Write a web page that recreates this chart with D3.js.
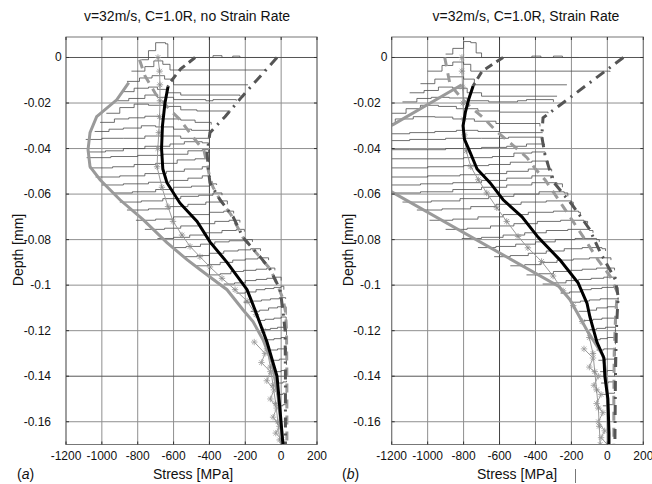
<!DOCTYPE html>
<html><head><meta charset="utf-8">
<script src="https://cdn.jsdelivr.net/npm/d3@7"></script>
<style>body{margin:0;background:#fff}text{font-family:"Liberation Sans",Arial,sans-serif;fill:#111}</style>
</head><body>
<svg id="c" width="652" height="484"></svg>
<script>
// ---------- shared tick data ----------
const xTicks = [-1200,-1000,-800,-600,-400,-200,0,200];
const yTicks = [0,-0.02,-0.04,-0.06,-0.08,-0.1,-0.12,-0.14,-0.16];
const yTickLabels = ["0","-0.02","-0.04","-0.06","-0.08","-0.1","-0.12","-0.14","-0.16"];
const titles = ["v=32m/s, C=1.0R, no Strain Rate","v=32m/s, C=1.0R, Strain Rate"];
const panelTags = ["(a)","(b)"];

// ---------- panel (a) series: [stress MPa, depth mm] ----------
const blackA = [[-631,-0.0128],[-648,-0.02],[-662,-0.03],[-667,-0.04],[-660,-0.049],[-637,-0.055],[-564,-0.064],[-469,-0.072],[-397,-0.081],[-302,-0.090],[-190,-0.102],[-145,-0.111],[-79,-0.125],[-23,-0.14],[-6,-0.155],[10,-0.17]];
const darkDashA = [[-480,0],[-560,-0.005],[-620,-0.011],[-631,-0.0128]];
const graySolidA = [[-850,-0.011],[-917,-0.0186],[-1029,-0.026],[-1066,-0.033],[-1077,-0.0405],[-1066,-0.048],[-1010,-0.0537],[-899,-0.0625],[-770,-0.0712],[-637,-0.0813],[-525,-0.0888],[-453,-0.0931],[-302,-0.102],[-213,-0.1108],[-157,-0.116],[-101,-0.124],[-51,-0.134],[-17,-0.149],[10,-0.17]];
const grayDashA = [[-790,-0.001],[-760,-0.008],[-700,-0.016],[-620,-0.023],[-564,-0.0273],[-491,-0.035],[-430,-0.041],[-415,-0.046],[-400,-0.052],[-380,-0.057],[-341,-0.0625],[-280,-0.069],[-213,-0.079],[-129,-0.0867],[-60,-0.093],[-20,-0.1],[10,-0.106],[25,-0.112],[30,-0.12],[32,-0.14],[32,-0.17]];
const dashDotA = [[-23,0],[-218,-0.0172],[-313,-0.026],[-397,-0.033],[-413,-0.042],[-405,-0.05],[-397,-0.055],[-341,-0.0625],[-268,-0.07],[-213,-0.079],[-118,-0.0875],[-62,-0.093],[-6,-0.102],[10,-0.111],[22,-0.12],[24,-0.14],[24,-0.17]];
const asterA = [[-687,0.0],[-678,-0.006],[-676,-0.012],[-676,-0.019],[-678,-0.026],[-682,-0.033],[-688,-0.04],[-692,-0.048],[-665,-0.057],[-631,-0.0655],[-603,-0.072],[-553,-0.078],[-508,-0.083],[-453,-0.0875],[-397,-0.092],[-330,-0.097],[-257,-0.102],[-190,-0.107],[-140,-0.113],[-100,-0.12],[-79,-0.128],[-60,-0.136],[-45,-0.144],[-30,-0.152],[-18,-0.16],[-8,-0.168]];
const noiseA = [[-150,-0.125],[-90,-0.13],[-110,-0.134],[-60,-0.138],[-80,-0.142],[-40,-0.146],[-60,-0.15],[-25,-0.154],[-45,-0.158],[-10,-0.162],[-30,-0.165],[5,-0.168]];
const stepsA = [
 [[-780,-0.001],[-740,0.003],[-700,0.0065],[-645,0.006],[-632,0.0],[-380,0.0008],[-330,0],[-270,0.0006],[-230,0],[-23,0]],
 [[-835,-0.006],[-760,-0.004],[-710,-0.0015],[-660,-0.003],[-620,-0.0055],[-90,-0.0058]],
 [[-860,-0.0105],[-790,-0.009],[-720,-0.008],[-650,-0.0095],[-600,-0.012],[-185,-0.012]],
 [[-890,-0.015],[-820,-0.0135],[-740,-0.013],[-690,-0.014],[-640,-0.0155],[-560,-0.0165],[-230,-0.017]],
 [[-930,-0.019],[-850,-0.018],[-760,-0.0165],[-690,-0.0175],[-600,-0.0185],[-420,-0.019],[-380,-0.0185],[-250,-0.019]],
 [[-975,-0.0245],[-900,-0.022],[-820,-0.0205],[-740,-0.021],[-650,-0.0215],[-560,-0.023],[-470,-0.0235],[-285,-0.024]],
 [[-1010,-0.0285],[-930,-0.027],[-850,-0.0265],[-760,-0.0258],[-680,-0.027],[-560,-0.0275],[-480,-0.0285],[-390,-0.0295]],
 [[-1040,-0.0325],[-960,-0.0315],[-880,-0.031],[-780,-0.030],[-700,-0.0305],[-600,-0.0315],[-500,-0.032],[-400,-0.033]],
 [[-1090,-0.036],[-1000,-0.0355],[-880,-0.0355],[-760,-0.0345],[-560,-0.0355],[-400,-0.0355]],
 [[-1080,-0.0415],[-980,-0.041],[-880,-0.04],[-760,-0.039],[-620,-0.038],[-540,-0.037],[-440,-0.0375],[-405,-0.038]],
 [[-1085,-0.044],[-950,-0.0435],[-800,-0.043],[-660,-0.0425],[-520,-0.041],[-440,-0.0405],[-405,-0.042]],
 [[-1070,-0.0485],[-940,-0.048],[-820,-0.047],[-700,-0.0465],[-580,-0.045],[-480,-0.0445],[-405,-0.046]],
 [[-1035,-0.0525],[-900,-0.052],[-760,-0.051],[-640,-0.050],[-540,-0.049],[-440,-0.048],[-400,-0.049]],
 [[-1000,-0.056],[-880,-0.0555],[-740,-0.0548],[-620,-0.054],[-520,-0.053],[-440,-0.052],[-395,-0.0525]],
 [[-940,-0.0595],[-830,-0.059],[-700,-0.058],[-600,-0.057],[-500,-0.0565],[-400,-0.0555],[-360,-0.056]],
 [[-900,-0.0635],[-780,-0.063],[-660,-0.062],[-560,-0.061],[-460,-0.0605],[-380,-0.0595],[-330,-0.0605]],
 [[-860,-0.067],[-740,-0.0665],[-620,-0.0655],[-520,-0.0645],[-420,-0.0635],[-340,-0.063],[-300,-0.0645]],
 [[-810,-0.0715],[-700,-0.071],[-600,-0.070],[-500,-0.069],[-400,-0.068],[-320,-0.0675],[-265,-0.0685]],
 [[-760,-0.0755],[-650,-0.075],[-560,-0.074],[-460,-0.073],[-370,-0.072],[-290,-0.0715],[-230,-0.0725]],
 [[-690,-0.0795],[-600,-0.079],[-510,-0.078],[-420,-0.077],[-330,-0.076],[-250,-0.0755],[-205,-0.0765]],
 [[-610,-0.0835],[-530,-0.083],[-450,-0.082],[-370,-0.081],[-290,-0.0805],[-210,-0.080],[-160,-0.081]],
 [[-540,-0.0875],[-470,-0.087],[-400,-0.086],[-320,-0.085],[-240,-0.0845],[-170,-0.084],[-115,-0.085]],
 [[-480,-0.0915],[-410,-0.091],[-340,-0.090],[-270,-0.089],[-200,-0.0885],[-130,-0.088],[-70,-0.089]],
 [[-400,-0.0955],[-340,-0.095],[-280,-0.094],[-210,-0.0935],[-140,-0.093],[-80,-0.0925],[-35,-0.0935]],
 [[-320,-0.0995],[-260,-0.099],[-200,-0.098],[-140,-0.0975],[-80,-0.097],[-30,-0.0965],[0,-0.098]],
 [[-250,-0.1035],[-200,-0.103],[-140,-0.102],[-90,-0.1015],[-40,-0.101],[0,-0.1005],[15,-0.102]],
 [[-210,-0.1075],[-160,-0.107],[-110,-0.1065],[-60,-0.106],[-10,-0.1055],[25,-0.106]],
 [[-170,-0.1115],[-120,-0.111],[-70,-0.110],[-20,-0.1095],[28,-0.110],[28,-0.113]],
 [[-130,-0.1155],[-90,-0.115],[-40,-0.1145],[0,-0.114],[28,-0.1145],[28,-0.118]],
 [[-100,-0.1195],[-60,-0.119],[-20,-0.1185],[30,-0.119],[30,-0.122]],
 [[-80,-0.124],[-40,-0.1235],[0,-0.123],[30,-0.123],[30,-0.126]],
 [[-60,-0.1285],[-20,-0.128],[30,-0.1275],[30,-0.131]],
 [[-45,-0.133],[-10,-0.1325],[30,-0.132],[30,-0.135]],
 [[-35,-0.138],[0,-0.1375],[30,-0.137],[30,-0.14]],
 [[-30,-0.143],[10,-0.1425],[30,-0.142]],
 [[-25,-0.148],[10,-0.1475],[30,-0.147]],
 [[-20,-0.153],[10,-0.1525],[30,-0.152]]
];

// ---------- panel (b) series ----------
const blackB = [[-747,-0.0125],[-770,-0.018],[-790,-0.024],[-803,-0.030],[-795,-0.036],[-770,-0.0405],[-725,-0.049],[-653,-0.055],[-580,-0.0625],[-475,-0.070],[-385,-0.079],[-263,-0.089],[-163,-0.099],[-113,-0.108],[-97,-0.114],[-58,-0.125],[-19,-0.132],[-14,-0.14],[3,-0.15],[9,-0.165],[9,-0.17]];
const darkDashB = [[-580,0],[-697,-0.006],[-747,-0.0125]];
const graySolidB = [[-810,-0.012],[-1190,-0.0294],[-1320,-0.034],[-1320,-0.055],[-1200,-0.059],[-270,-0.1006],[-208,-0.1064],[-115,-0.1196],[-24,-0.131],[-5,-0.14],[3,-0.155],[5,-0.17]];
const grayDashB = [[-905,0.0],[-890,-0.006],[-875,-0.012],[-810,-0.018],[-764,-0.0215],[-690,-0.0265],[-614,-0.0326],[-540,-0.0376],[-447,-0.044],[-400,-0.049],[-347,-0.0537],[-246,-0.0655],[-135,-0.0787],[-52,-0.0889],[15,-0.096],[55,-0.103],[45,-0.115],[38,-0.13],[36,-0.15],[36,-0.17]];
const dashDotB = [[89,0],[-174,-0.0156],[-358,-0.0265],[-365,-0.0347],[-347,-0.0427],[-302,-0.0545],[-196,-0.0647],[-101,-0.0752],[-39,-0.0857],[44,-0.0975],[60,-0.105],[50,-0.12],[45,-0.14],[42,-0.17]];
const asterB = [[-809,0.0],[-809,-0.006],[-806,-0.013],[-803,-0.02],[-800,-0.027],[-795,-0.034],[-785,-0.041],[-760,-0.048],[-718,-0.0537],[-671,-0.0595],[-615,-0.066],[-560,-0.072],[-497,-0.0786],[-442,-0.0836],[-366,-0.0896],[-302,-0.096],[-246,-0.1025],[-190,-0.109],[-140,-0.116],[-100,-0.123],[-80,-0.13],[-70,-0.138],[-60,-0.146],[-50,-0.154],[-45,-0.162],[-40,-0.17]];
const noiseB = [[-130,-0.128],[-80,-0.132],[-100,-0.136],[-50,-0.14],[-75,-0.144],[-35,-0.148],[-60,-0.152],[-25,-0.156],[-50,-0.16],[-15,-0.164],[-35,-0.167],[0,-0.17]];
const stepsB = [
 [[-900,0.0015],[-860,0.004],[-800,0.007],[-760,0.0065],[-730,0.002],[-700,0.0],[-420,0.0006],[-370,0],[-300,0.0006],[-250,0],[-160,0]],
 [[-1000,-0.006],[-920,-0.0035],[-860,-0.002],[-800,-0.003],[-760,-0.006],[15,-0.0063]],
 [[-1040,-0.0115],[-960,-0.0095],[-880,-0.0085],[-800,-0.0095],[-740,-0.012],[-225,-0.012]],
 [[-1100,-0.0155],[-1020,-0.0145],[-940,-0.013],[-860,-0.0135],[-780,-0.0155],[-700,-0.017],[-280,-0.017]],
 [[-1140,-0.0195],[-1060,-0.018],[-980,-0.0175],[-880,-0.0178],[-780,-0.019],[-660,-0.0195],[-500,-0.019],[-450,-0.0185],[-300,-0.0195]],
 [[-1200,-0.0245],[-1120,-0.0225],[-1040,-0.021],[-940,-0.0215],[-840,-0.0225],[-720,-0.0235],[-600,-0.024],[-330,-0.0245]],
 [[-1260,-0.029],[-1180,-0.027],[-1080,-0.026],[-960,-0.0262],[-860,-0.027],[-740,-0.028],[-620,-0.029],[-375,-0.0303]],
 [[-1260,-0.0335],[-1100,-0.033],[-960,-0.0325],[-840,-0.032],[-720,-0.0325],[-600,-0.033],[-360,-0.033]],
 [[-1260,-0.0365],[-1100,-0.036],[-900,-0.0355],[-700,-0.0355],[-550,-0.035],[-360,-0.036]],
 [[-1260,-0.0405],[-1100,-0.0405],[-900,-0.040],[-700,-0.0395],[-560,-0.039],[-450,-0.038],[-350,-0.0385]],
 [[-1260,-0.0445],[-1000,-0.0445],[-800,-0.044],[-640,-0.0435],[-520,-0.042],[-420,-0.0415],[-346,-0.043]],
 [[-1260,-0.0485],[-1000,-0.048],[-800,-0.0475],[-660,-0.047],[-540,-0.046],[-420,-0.0455],[-330,-0.0465]],
 [[-1260,-0.0525],[-1000,-0.052],[-820,-0.0515],[-680,-0.051],[-560,-0.050],[-440,-0.049],[-310,-0.050]],
 [[-1260,-0.056],[-1040,-0.0555],[-860,-0.055],[-700,-0.054],[-560,-0.053],[-420,-0.052],[-300,-0.053]],
 [[-1220,-0.0595],[-1040,-0.059],[-860,-0.058],[-700,-0.057],[-560,-0.056],[-420,-0.055],[-280,-0.0555],[-250,-0.057]],
 [[-1140,-0.0635],[-980,-0.063],[-820,-0.062],[-660,-0.061],[-520,-0.060],[-380,-0.059],[-240,-0.0595],[-220,-0.061]],
 [[-1060,-0.067],[-920,-0.0665],[-760,-0.0655],[-620,-0.0645],[-480,-0.0635],[-340,-0.063],[-200,-0.0635],[-190,-0.065]],
 [[-990,-0.0715],[-860,-0.071],[-720,-0.070],[-580,-0.069],[-440,-0.068],[-300,-0.0675],[-160,-0.068],[-150,-0.069]],
 [[-900,-0.0755],[-780,-0.075],[-650,-0.074],[-520,-0.073],[-390,-0.072],[-260,-0.0715],[-130,-0.072],[-110,-0.073]],
 [[-810,-0.0795],[-700,-0.079],[-580,-0.078],[-460,-0.077],[-340,-0.076],[-220,-0.0755],[-100,-0.076],[-80,-0.077]],
 [[-720,-0.0835],[-620,-0.083],[-510,-0.082],[-400,-0.081],[-290,-0.080],[-180,-0.0795],[-60,-0.080],[-45,-0.081]],
 [[-630,-0.0875],[-540,-0.087],[-440,-0.086],[-340,-0.085],[-240,-0.084],[-140,-0.0835],[-30,-0.084],[-10,-0.085]],
 [[-540,-0.0915],[-460,-0.091],[-370,-0.090],[-280,-0.089],[-190,-0.0885],[-100,-0.088],[0,-0.088],[20,-0.089]],
 [[-450,-0.0955],[-380,-0.095],[-300,-0.094],[-220,-0.0935],[-140,-0.093],[-60,-0.0925],[30,-0.0925],[40,-0.0935]],
 [[-360,-0.0995],[-300,-0.099],[-230,-0.098],[-160,-0.0975],[-90,-0.097],[-20,-0.0965],[50,-0.097]],
 [[-260,-0.1035],[-210,-0.103],[-150,-0.102],[-90,-0.1015],[-30,-0.101],[60,-0.101],[60,-0.104]],
 [[-200,-0.1075],[-150,-0.107],[-100,-0.1065],[-40,-0.106],[60,-0.1055],[60,-0.108]],
 [[-160,-0.1115],[-110,-0.111],[-60,-0.110],[0,-0.1095],[55,-0.1095],[55,-0.113]],
 [[-130,-0.1155],[-80,-0.115],[-30,-0.1145],[50,-0.114],[50,-0.117]],
 [[-100,-0.1195],[-60,-0.119],[-10,-0.1185],[45,-0.119],[45,-0.122]],
 [[-80,-0.124],[-40,-0.1235],[0,-0.123],[45,-0.123],[45,-0.126]],
 [[-60,-0.1285],[-20,-0.128],[45,-0.1275],[45,-0.131]],
 [[-50,-0.133],[-10,-0.1325],[40,-0.132],[40,-0.135]],
 [[-40,-0.138],[0,-0.1375],[40,-0.137],[40,-0.14]],
 [[-35,-0.143],[5,-0.1425],[40,-0.142]],
 [[-30,-0.148],[5,-0.1475],[40,-0.147]],
 [[-25,-0.153],[5,-0.1525],[40,-0.152]]
];

const panels = [
 {L:66, R:317, tag:0, black:blackA, darkDash:darkDashA, graySolid:graySolidA, grayDash:grayDashA, dashDot:dashDotA, aster:asterA, noise:noiseA, steps:stepsA, darkV:-400, yLabOff:15, titleX:187, xLabX:193, tagX:17, depthX:23},
 {L:391.7, R:643.3, tag:1, black:blackB, darkDash:darkDashB, graySolid:graySolidB, grayDash:grayDashB, dashDot:dashDotB, aster:asterB, noise:noiseB, steps:stepsB, darkV:-600, yLabOff:11, titleX:526, xLabX:517, tagX:342, depthX:353}
];
const T = 37, B = 444.5;
const svg = d3.select("#c");
const star = "M-3.2,0H3.2M0,-3.2V3.2M-2.3,-2.3L2.3,2.3M-2.3,2.3L2.3,-2.3";

panels.forEach((p,i)=>{
  const x = d3.scaleLinear().domain([-1200,200]).range([p.L,p.R]);
  const y = d3.scaleLinear().domain([-0.17,0.009]).range([B,T]);
  const g = svg.append("g");
  const clipId = "clip"+i;
  svg.append("clipPath").attr("id",clipId).append("rect").attr("x",p.L).attr("y",T).attr("width",p.R-p.L).attr("height",B-T);

  // grid
  g.selectAll(".gv").data(xTicks).join("line").attr("x1",d=>x(d)).attr("x2",d=>x(d)).attr("y1",T).attr("y2",B)
    .attr("stroke",d=>d===p.darkV?"#444":"#8f8f8f").attr("stroke-width",1);
  g.selectAll(".gh").data(yTicks).join("line").attr("x1",p.L).attr("x2",p.R).attr("y1",d=>y(d)).attr("y2",d=>y(d))
    .attr("stroke",d=>(d===0||d===-0.14)?"#555":"#8f8f8f").attr("stroke-width",1);

  const dg = g.append("g").attr("clip-path",`url(#${clipId})`);
  const line = d3.line().x(d=>x(d[0])).y(d=>y(d[1]));
  const step = d3.line().x(d=>x(d[0])).y(d=>y(d[1])).curve(d3.curveStepAfter);

  dg.selectAll(".st").data(p.steps).join("path").attr("d",step).attr("fill","none").attr("stroke","#4d4d4d").attr("stroke-width",0.8);

  dg.append("path").attr("d",line(p.noise)).attr("fill","none").attr("stroke","#9a9a9a").attr("stroke-width",1);
  dg.selectAll(".nz").data(p.noise).join("path").attr("d",star).attr("transform",d=>`translate(${x(d[0])},${y(d[1])})`).attr("stroke","#9a9a9a").attr("stroke-width",0.8).attr("fill","none");

  dg.append("path").attr("d",line(p.aster)).attr("fill","none").attr("stroke","#9a9a9a").attr("stroke-width",1);
  dg.selectAll(".as").data(p.aster).join("path").attr("d",star).attr("transform",d=>`translate(${x(d[0])},${y(d[1])})`).attr("stroke","#8a8a8a").attr("stroke-width",0.8).attr("fill","none");

  dg.append("path").attr("d",line(p.graySolid)).attr("fill","none").attr("stroke","#9a9a9a").attr("stroke-width",3);
  dg.append("path").attr("d",line(p.grayDash)).attr("fill","none").attr("stroke","#9a9a9a").attr("stroke-width",3).attr("stroke-dasharray","9,7");
  dg.append("path").attr("d",line(p.dashDot)).attr("fill","none").attr("stroke","#555").attr("stroke-width",3).attr("stroke-dasharray","10,6,2,6");
  dg.append("path").attr("d",line(p.darkDash)).attr("fill","none").attr("stroke","#555").attr("stroke-width",3).attr("stroke-dasharray","8,5");
  dg.append("path").attr("d",line(p.black)).attr("fill","none").attr("stroke","#000").attr("stroke-width",3);

  // box + inner ticks
  g.append("rect").attr("x",p.L).attr("y",T).attr("width",p.R-p.L).attr("height",B-T).attr("fill","none").attr("stroke","#777");
  xTicks.forEach(t=>{
    g.append("line").attr("x1",x(t)).attr("x2",x(t)).attr("y1",B).attr("y2",B-3).attr("stroke","#333");
    g.append("line").attr("x1",x(t)).attr("x2",x(t)).attr("y1",T).attr("y2",T+3).attr("stroke","#333");
  });
  yTicks.forEach(t=>{
    g.append("line").attr("x1",p.L).attr("x2",p.L+3).attr("y1",y(t)).attr("y2",y(t)).attr("stroke","#333");
    g.append("line").attr("x1",p.R).attr("x2",p.R-3).attr("y1",y(t)).attr("y2",y(t)).attr("stroke","#333");
  });

  // tick labels
  g.selectAll(".xl").data(xTicks).join("text").attr("x",d=>x(d)).attr("y",460).attr("text-anchor","middle").attr("font-size",12).text(d=>d);
  g.selectAll(".yl").data(yTicks).join("text")
    .attr("x",(d,j)=>j===0? p.L-11 : p.L-p.yLabOff)
    .attr("y",d=>y(d)+4).attr("text-anchor",(d,j)=>j===0?"start":"end").attr("font-size",12).text((d,j)=>yTickLabels[j]);

  // titles & labels
  g.append("text").attr("x",p.titleX).attr("y",21).attr("text-anchor","middle").attr("font-size",14).text(titles[i]);
  g.append("text").attr("x",p.xLabX).attr("y",479).attr("text-anchor","middle").attr("font-size",14).text("Stress [MPa]");
  const tg = g.append("text").attr("x",p.tagX).attr("y",479).attr("font-size",14);
  tg.append("tspan").text("(");
  tg.append("tspan").attr("font-style","italic").text(panelTags[i].slice(1,2));
  tg.append("tspan").text(")");
  g.append("text").attr("transform",`translate(${p.depthX},250) rotate(-90)`).attr("text-anchor","middle").attr("font-size",14).text("Depth [mm]");
});
// stray cursor mark right of the (b) axis label
svg.append("line").attr("x1",575.5).attr("x2",575.5).attr("y1",469).attr("y2",483).attr("stroke","#777").attr("stroke-width",1);
</script>
</body></html>
